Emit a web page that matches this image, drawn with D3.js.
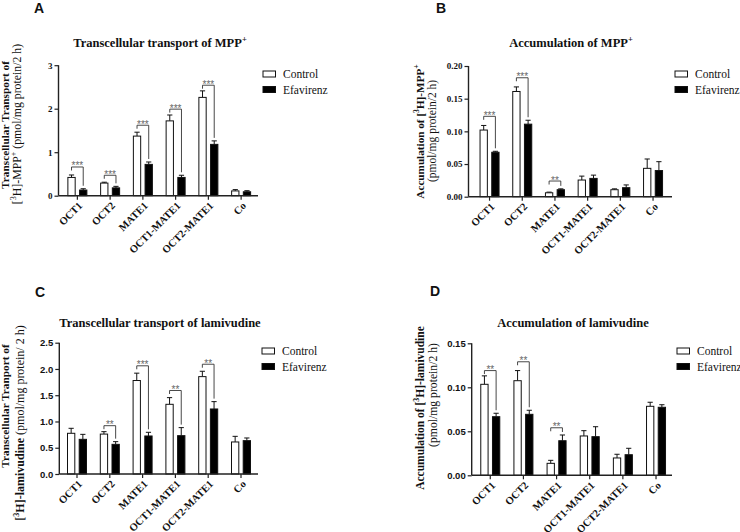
<!DOCTYPE html>
<html><head><meta charset="utf-8">
<script src="https://cdn.jsdelivr.net/npm/d3@7"></script>
<style>
html,body{margin:0;padding:0;background:#fff;}
svg{display:block;font-family:"Liberation Serif","Times New Roman",Times,serif;}
.serif{font-family:"Liberation Serif","Times New Roman",Times,serif;}
.sans{font-family:"Liberation Sans",Arial,Helvetica,sans-serif;}
</style></head>
<body>
<svg id="chart" width="740" height="532"></svg>
<script>
// ---------- data ----------
const categories = ["OCT1","OCT2","MATE1","OCT1-MATE1","OCT2-MATE1","Co"];
const seriesNames = ["Control","Efavirenz"];

// Panel A: transcellular transport of MPP+
const aControl      = [0.42, 0.29, 1.37, 1.72, 2.26, 0.11];
const aControlErr   = [0.056,0.02, 0.09, 0.135,0.15, 0.03];
const aEfavirenz    = [0.13, 0.18, 0.72, 0.42, 1.18, 0.09];
const aEfavirenzErr = [0.03, 0.035,0.055,0.05, 0.08, 0.025];
const aSig          = ["***","***","***","***","***",""];
const aSigLevel     = [0.66, 0.47, 1.62, 1.99, 2.54, null];
const aTicks        = [0,1,2,3];

// Panel B: accumulation of MPP+
const bControl      = [0.102, 0.161, 0.006, 0.0255, 0.0107, 0.0434];
const bControlErr   = [0.007, 0.007, 0.001, 0.006,  0.0013, 0.0143];
const bEfavirenz    = [0.068, 0.111, 0.0107,0.028,  0.0138, 0.040];
const bEfavirenzErr = [0.0015,0.006, 0.0013,0.005,  0.0042, 0.0136];
const bSig          = ["***","***","**","","",""];
const bSigLevel     = [0.123, 0.182, 0.024, null, null, null];
const bTicks        = [0,0.05,0.10,0.15,0.20];

// Panel C: transcellular transport of lamivudine
const cControl      = [0.775, 0.76, 1.78, 1.327, 1.854, 0.61];
const cControlErr   = [0.095, 0.046,0.14, 0.127, 0.102, 0.107];
const cEfavirenz    = [0.66,  0.565,0.724,0.73,  1.238, 0.635];
const cEfavirenzErr = [0.095, 0.051,0.07, 0.153, 0.14,  0.051];
const cSig          = ["","**","***","**","**",""];
const cSigLevel     = [null, 0.92, 2.06, 1.59, 2.09, null];
const cTicks        = [0,0.5,1.0,1.5,2.0,2.5];

// Panel D: accumulation of lamivudine
const dControl      = [0.1034, 0.1075, 0.0136, 0.0447, 0.0197, 0.0784];
const dControlErr   = [0.0096, 0.0115, 0.0034, 0.006,  0.0042, 0.0046];
const dEfavirenz    = [0.0666, 0.0693, 0.0393, 0.0439, 0.0234, 0.0773];
const dEfavirenzErr = [0.0039, 0.0046, 0.0065, 0.0113, 0.0073, 0.0029];
const dSig          = ["**","**","**","","",""];
const dSigLevel     = [0.119, 0.129, 0.054, null, null, null];
const dTicks        = [0,0.05,0.10,0.15];

// ---------- drawing ----------
const svg = d3.select("#chart");

function richText(sel, segs, baseSize) {
  let pending = 0;
  segs.forEach(s => {
    const t = sel.append("tspan").text(s.t);
    if (s.bold !== undefined) t.attr("font-weight", s.bold ? "bold" : "normal");
    if (s.sup) {
      t.attr("font-size", baseSize*0.68).attr("dy", -baseSize*0.42 + pending);
      pending = baseSize*0.42;
    } else if (pending) {
      t.attr("dy", pending);
      pending = 0;
    }
  });
}

function panel(cfg) {
  const g = svg.append("g");
  const x = d3.scaleBand().domain(categories).range(cfg.band).padding(0);
  const xs = d3.scaleBand().domain(seriesNames).range([-10, 10]).paddingInner(0.29);
  const y = d3.scaleLinear().domain(cfg.domain).range(cfg.yRange);
  const y0 = cfg.yRange[0];

  const rows = categories.map((c,i) => ({c, i,
    vals: [{s:"Control", v:cfg.ctrl[i], e:cfg.ctrlErr[i]}, {s:"Efavirenz", v:cfg.ef[i], e:cfg.efErr[i]}]}));
  const grp = g.selectAll("g.grp").data(rows).join("g")
    .attr("transform", d => `translate(${x(d.c) + x.bandwidth()/2},0)`);
  // error bars (upward only)
  grp.selectAll("path.err").data(d => d.vals).join("path")
    .attr("d", d => {
      const cx = xs(d.s) + xs.bandwidth()/2;
      const yt = y(d.v + d.e);
      return `M${cx},${y(d.v)}V${yt}M${cx-2.6},${yt}H${cx+2.6}`;
    })
    .attr("stroke", "#111").attr("stroke-width", 1).attr("fill", "none");
  grp.selectAll("rect").data(d => d.vals).join("rect")
    .attr("x", d => xs(d.s) + 0.5)
    .attr("width", xs.bandwidth() - 1)
    .attr("y", d => y(d.v))
    .attr("height", d => y0 - y(d.v))
    .attr("fill", d => d.s === "Control" ? "#fff" : "#000")
    .attr("stroke", "#111").attr("stroke-width", 1);

  // significance brackets
  rows.forEach((d,i) => {
    if (!cfg.sig[i]) return;
    const cx = x(d.c) + x.bandwidth()/2;
    const lx = cx + xs("Control") + xs.bandwidth()/2;
    const rx = cx + xs("Efavirenz") + xs.bandwidth()/2;
    const by = y(cfg.sigLevel[i]);
    const rBottom = Math.max(by + 4, y(cfg.ef[i] + cfg.efErr[i]) - 3);
    g.append("path")
      .attr("d", `M${lx},${by+3.5}V${by}H${rx}V${rBottom}`)
      .attr("fill","none").attr("stroke","#333").attr("stroke-width",0.9);
    g.append("text").attr("class","sans").attr("x", (lx+rx)/2).attr("y", by + 2.5)
      .attr("text-anchor","middle")
      .attr("font-size", 10).attr("fill", "#666").text(cfg.sig[i]);
  });

  // y axis
  const ya = g.append("g").attr("transform", `translate(${cfg.axisX[0]},0)`)
    .call(d3.axisLeft(y).tickValues(cfg.ticks).tickFormat(d3.format(cfg.fmt)).tickSize(4).tickPadding(2));
  ya.attr("font-family", null);
  ya.select(".domain").attr("stroke","#222").attr("stroke-width",1.4).attr("d", `M0,${y0}V${cfg.yRange[1]}`);
  ya.selectAll(".tick line").attr("stroke","#222").attr("stroke-width",1.2);
  ya.selectAll(".tick text").attr("class", cfg.tickFont).attr("font-weight","bold")
    .attr("font-size", cfg.tickSize).attr("fill","#111");

  // x axis
  const xa = g.append("g").attr("transform", `translate(0,${y0})`)
    .call(d3.axisBottom(x).tickSize(4).tickFormat(""));
  xa.attr("font-family", null);
  xa.select(".domain").attr("stroke","#222").attr("stroke-width",1.4).attr("d", `M${cfg.axisX[0]},0H${cfg.axisX[1]}`);
  xa.selectAll(".tick line").attr("stroke","#222").attr("stroke-width",1.2);
  xa.selectAll(".tick").append("text").attr("class","serif")
    .attr("transform", "translate(3,8) rotate(-45)")
    .attr("text-anchor","end").attr("dy","0.35em")
    .attr("font-weight","bold").attr("font-size", 10.5)
    .attr("fill","#111").text(d => d);

  // title
  const tt = g.append("text").attr("class","serif").attr("x", cfg.titleX).attr("y", cfg.titleY)
    .attr("text-anchor","middle").attr("font-weight","bold")
    .attr("font-size", 12.5).attr("fill","#111");
  richText(tt, cfg.title, 12.5);

  // panel letter
  g.append("text").attr("class","sans").attr("x", cfg.letterPos[0]).attr("y", cfg.letterPos[1])
    .attr("font-weight","bold").attr("font-size", 14)
    .attr("fill","#111").text(cfg.letter);

  // y labels
  cfg.ylabels.forEach(l => {
    const t = g.append("text").attr("class","serif")
      .attr("transform", `translate(${l.x},${l.cy}) rotate(-90)`)
      .attr("text-anchor","middle")
      .attr("font-weight", l.bold ? "bold" : "normal")
      .attr("font-size", l.size).attr("fill","#111");
    richText(t, l.segs, l.size);
  });

  // legend
  seriesNames.forEach((s,k) => {
    const yy = cfg.legend[1] + k*15.5;
    g.append("rect").attr("x", cfg.legend[0]).attr("y", yy).attr("width", 12.5).attr("height", 6)
      .attr("fill", s === "Control" ? "#fff" : "#000").attr("stroke","#111").attr("stroke-width",1);
    g.append("text").attr("class","serif").attr("x", cfg.legend[0] + 20).attr("y", yy + 7)
      .attr("font-size", 11.5).attr("fill","#111").text(s);
  });
}

panel({
  letter:"A", letterPos:[34,13],
  title:[{t:"Transcellular transport of MPP"},{t:"+",sup:true}], titleX:160, titleY:47,
  ctrl:aControl, ctrlErr:aControlErr, ef:aEfavirenz, efErr:aEfavirenzErr,
  sig:aSig, sigLevel:aSigLevel, ticks:aTicks, fmt:"d",
  domain:[0,3], yRange:[195.7,65.2], axisX:[58.5,258], band:[61,257.5],
  tickFont:"serif", tickSize:9,
  legend:[263,71],
  ylabels:[
    {x:8.5, cy:125, bold:true, size:11.3, segs:[{t:"Transcellular Transport of"}]},
    {x:21, cy:124, bold:false, size:11.8, segs:[{t:"["},{t:"3",sup:true},{t:"H]-MPP"},{t:"+",sup:true},{t:" (pmol/mg protein/2 h)"}]}
  ]
});
panel({
  letter:"B", letterPos:[436,13],
  title:[{t:"Accumulation of MPP"},{t:"+",sup:true}], titleX:571, titleY:47,
  ctrl:bControl, ctrlErr:bControlErr, ef:bEfavirenz, efErr:bEfavirenzErr,
  sig:bSig, sigLevel:bSigLevel, ticks:bTicks, fmt:".2f",
  domain:[0,0.2], yRange:[196.7,66], axisX:[468.5,672], band:[473.2,669.4],
  tickFont:"serif", tickSize:9,
  legend:[675,71],
  ylabels:[
    {x:424, cy:131.5, bold:true, size:11.2, segs:[{t:"Accumulation of ["},{t:"3",sup:true},{t:"H]-MPP"},{t:"+",sup:true}]},
    {x:436, cy:131, bold:false, size:11.5, segs:[{t:"(pmol/mg protein/2 h)"}]}
  ]
});
panel({
  letter:"C", letterPos:[35,297],
  title:[{t:"Transcellular transport of lamivudine"}], titleX:160, titleY:327,
  ctrl:cControl, ctrlErr:cControlErr, ef:cEfavirenz, efErr:cEfavirenzErr,
  sig:cSig, sigLevel:cSigLevel, ticks:cTicks, fmt:".1f",
  domain:[0,2.5], yRange:[474,342.7], axisX:[59.3,258], band:[60.6,257.4],
  tickFont:"sans", tickSize:9.5,
  legend:[262,348],
  ylabels:[
    {x:9, cy:406, bold:true, size:11.3, segs:[{t:"Transcellular Tranport of"}]},
    {x:24, cy:423, bold:false, size:12, segs:[{t:"[",bold:true},{t:"3",sup:true,bold:true},{t:"H]-lamivudine",bold:true},{t:" (pmol/mg protein/ 2 h)",bold:false}]}
  ]
});
panel({
  letter:"D", letterPos:[430,296],
  title:[{t:"Accumulation of lamivudine"}], titleX:573, titleY:327,
  ctrl:dControl, ctrlErr:dControlErr, ef:dEfavirenz, efErr:dEfavirenzErr,
  sig:dSig, sigLevel:dSigLevel, ticks:dTicks, fmt:".2f",
  domain:[0,0.15], yRange:[475.3,343.3], axisX:[471.7,672], band:[473.7,672.6],
  tickFont:"sans", tickSize:9.5,
  legend:[677,348],
  ylabels:[
    {x:424, cy:408, bold:true, size:11.5, segs:[{t:"Accumulation of ["},{t:"3",sup:true},{t:"H]-lamivudine"}]},
    {x:437, cy:395, bold:false, size:11.7, segs:[{t:"(pmol/mg protein/2 h)"}]}
  ]
});
</script>
</body></html>
